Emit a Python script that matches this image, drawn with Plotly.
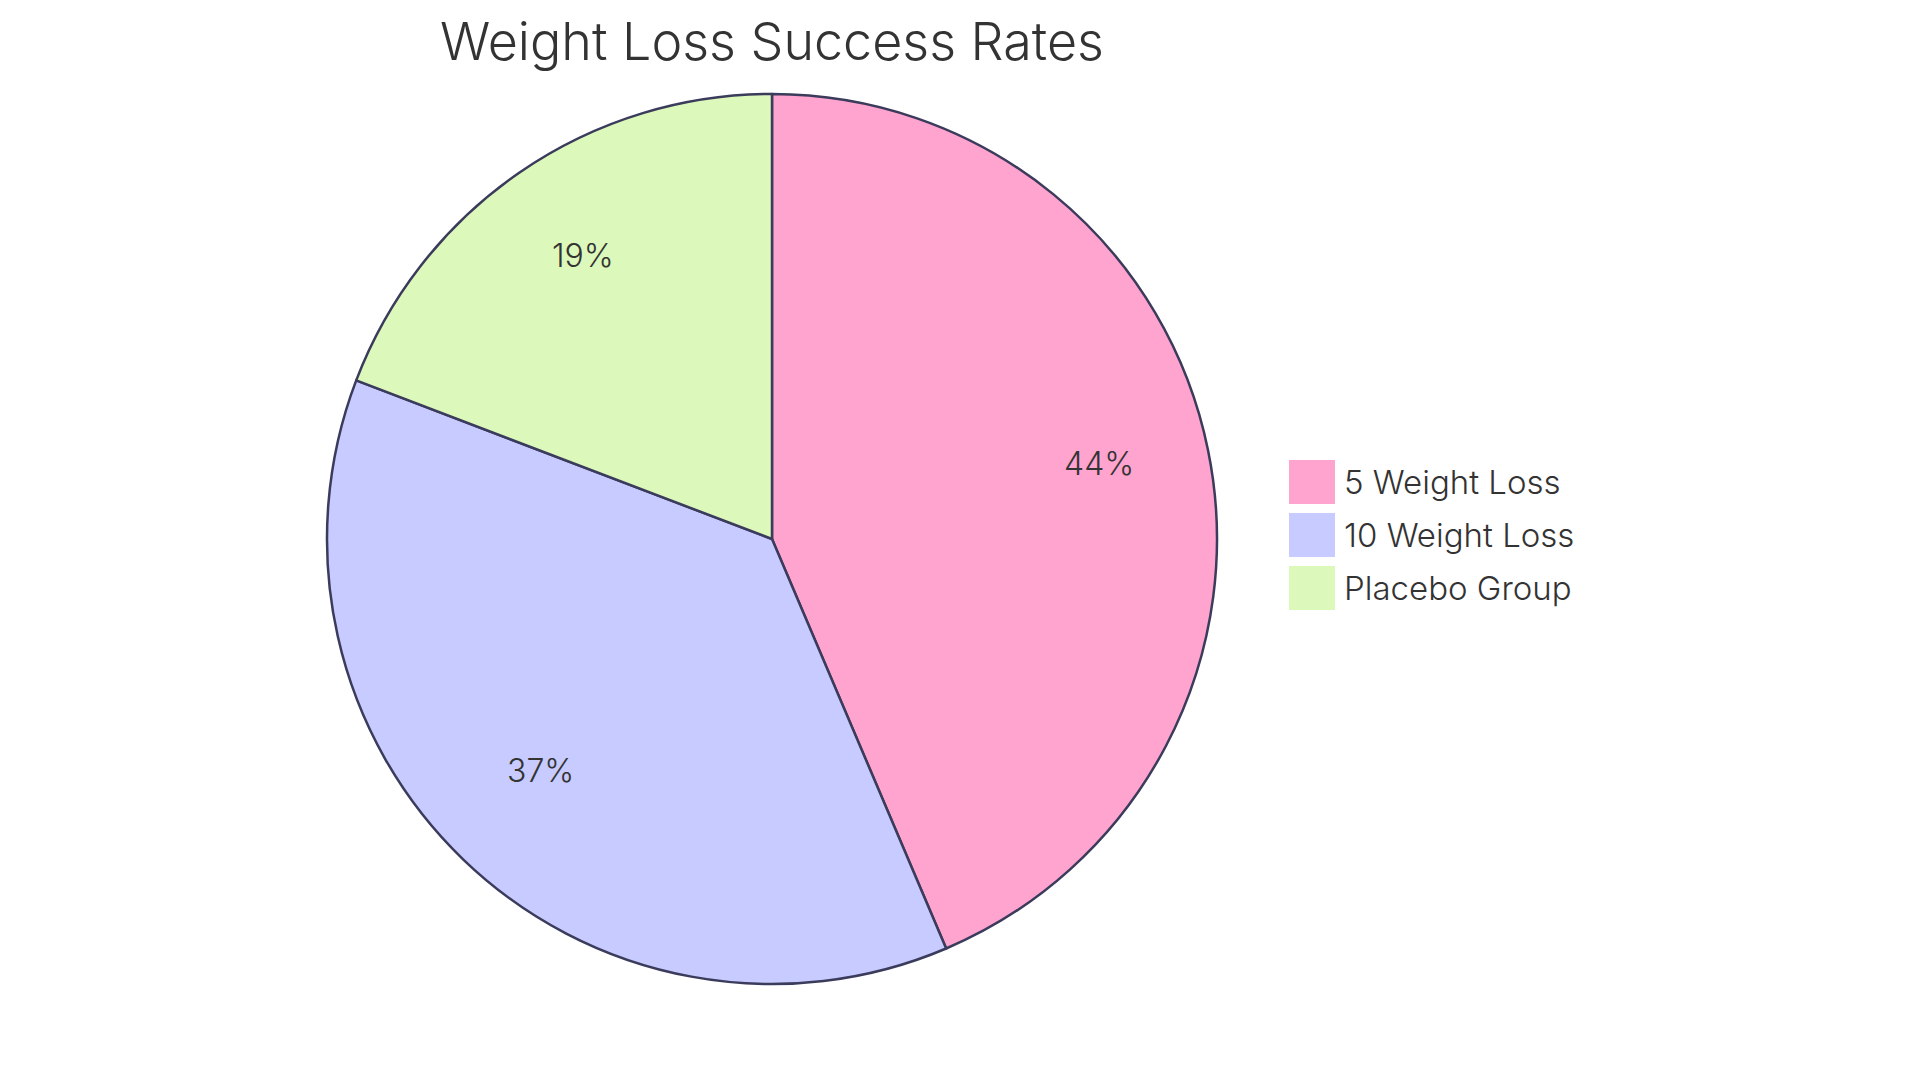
import math
import plotly.graph_objects as go

# 数据
categories = ["5 Weight Loss", "10 Weight Loss", "Placebo Group"]
shares = [43.6, 37.2, 19.2]
colors = ["#FFA3CF", "#C8CBFF", "#DCF9BB"]

W, H = 1920, 1083
cx, cy, r = 764, 531, 445
FONT = "Inter"

fig = go.Figure()
fig.add_trace(go.Pie(
    labels=categories, values=shares, sort=False, direction="clockwise", rotation=0,
    marker=dict(colors=colors, line=dict(color="#3b3b5c", width=2.5)),
    textinfo="none", showlegend=False, hoverinfo="label+percent",
    domain=dict(x=[(cx - r) / W, (cx + r) / W], y=[1 - (cy + r) / H, 1 - (cy - r) / H]),
))

shapes = []
annotations = []

# 百分比标签：放在 0.75 半径处
total = sum(shares)
acc = 0
for v in shares:
    mid = (acc + v / 2) / total * 2 * math.pi
    acc += v
    px = cx + 0.75 * r * math.sin(mid)
    py = cy - 0.75 * r * math.cos(mid) - 9
    annotations.append(dict(xref="paper", yref="paper", x=px / W, y=1 - py / H,
                            xanchor="center", yanchor="middle", showarrow=False,
                            text="{:.0f}%".format(v / total * 100),
                            font=dict(size=32, color="#333333", family=FONT, weight=300)))

# 图例（方块 + 文字）
for i, (name, col) in enumerate(zip(categories, colors)):
    yc = 474 + i * 53
    shapes.append(dict(type="rect", xref="paper", yref="paper",
                       x0=1281 / W, x1=1327 / W, y0=1 - (yc + 22) / H, y1=1 - (yc - 22) / H,
                       fillcolor=col, line=dict(width=0)))
    annotations.append(dict(xref="paper", yref="paper", x=1334 / W, y=1 - yc / H,
                            xanchor="left", yanchor="middle", showarrow=False, text=name,
                            font=dict(size=33, color="#333333", family=FONT, weight=300)))

fig.update_layout(
    width=W, height=H, margin=dict(l=0, r=0, t=0, b=0),
    paper_bgcolor="white", plot_bgcolor="white",
    title=dict(text="Weight Loss Success Rates", x=cx / W, xanchor="center",
               y=1 - 34 / H, yanchor="middle",
               font=dict(size=52, color="#333333", family=FONT, weight=300)),
    shapes=shapes, annotations=annotations,
)
fig.write_html("out.html")
